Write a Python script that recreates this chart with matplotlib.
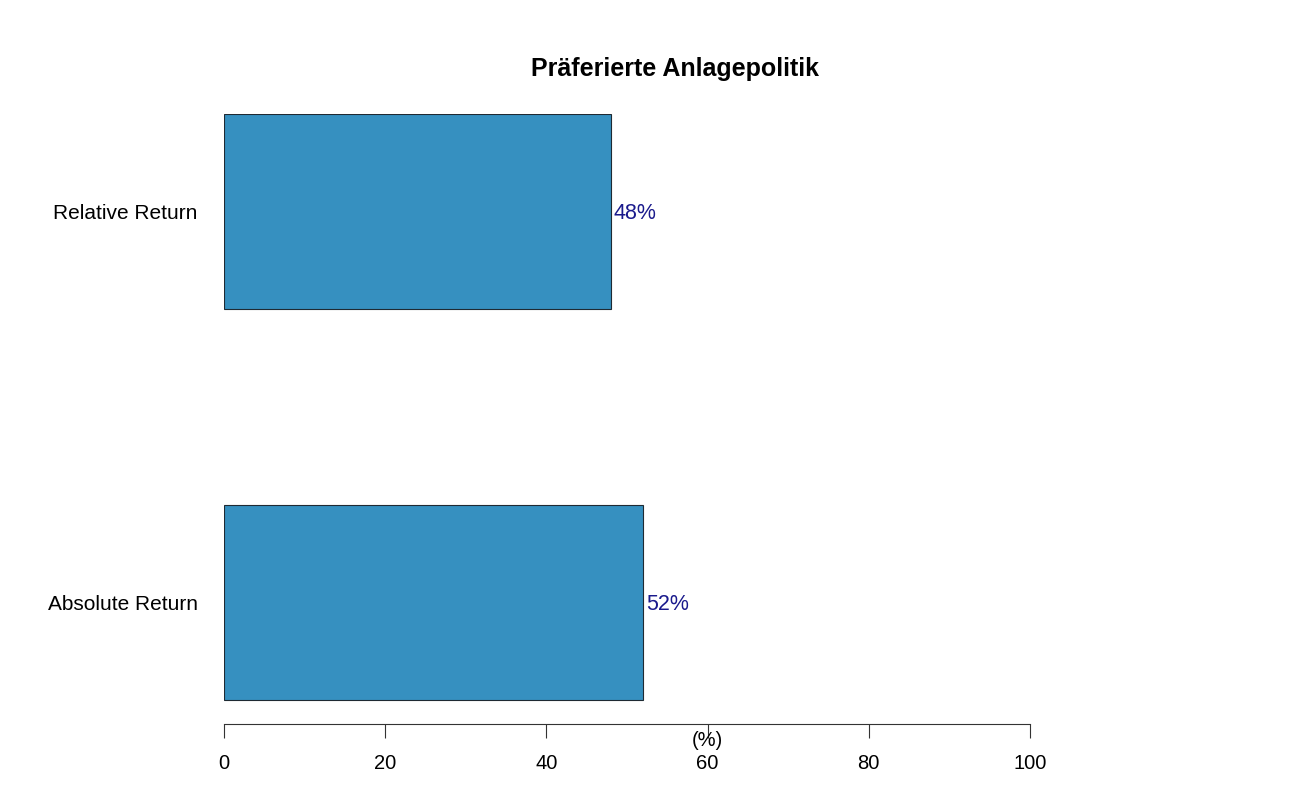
import numpy as np
import matplotlib.pyplot as plt

plt.rcParams['font.family'] = ['Liberation Sans', 'DejaVu Sans']

# data
categories = ["Absolute Return", "Relative Return"]
values = [52, 48]
x_ticks = [0, 20, 40, 60, 80, 100]

W, H = 1292, 799
fig = plt.figure(figsize=(W / 100, H / 100), dpi=100)
ax = fig.add_axes([224 / W, (H - 724) / H, (1030 - 224) / W, (724 - 114) / H])

ypos = np.arange(len(categories))
ax.barh(ypos, values, height=0.5, color='#3690c0', edgecolor='#1f2a33', linewidth=0.8)

for y, v in zip(ypos, values):
    ax.annotate(f"{v}%", xy=(v, y), xytext=(2, -1.5), textcoords='offset points',
                color='#1a1a8c', fontsize=15.5, va='center', ha='left')

# category labels, placed a fixed distance left of the axis
for y, c in zip(ypos, categories):
    ax.annotate(c, xy=(0, y), xytext=(-19, -1.5), textcoords='offset points',
                fontsize=15, ha='right', va='center')

ax.set_xlim(0, 100)
ax.set_ylim(-0.25 - 24 / 390, 1.25)
ax.set_xticks(x_ticks)
ax.set_xticklabels([str(t) for t in x_ticks], fontsize=14.5)
ax.tick_params(axis='x', length=10, width=0.8, pad=11.5, color='#333333')
ax.set_yticks([])
for s in ['top', 'right', 'left']:
    ax.spines[s].set_visible(False)
ax.spines['bottom'].set_color('#333333')
ax.spines['bottom'].set_linewidth(0.8)

fig.text(707 / W, (H - 740) / H, "(%)", fontsize=14.5, ha='center', va='center')
fig.text(675 / W, (H - 69) / H, "Präferierte Anlagepolitik", fontsize=18,
         fontweight='bold', ha='center', va='center')

fig.savefig("out.png", dpi=100)
